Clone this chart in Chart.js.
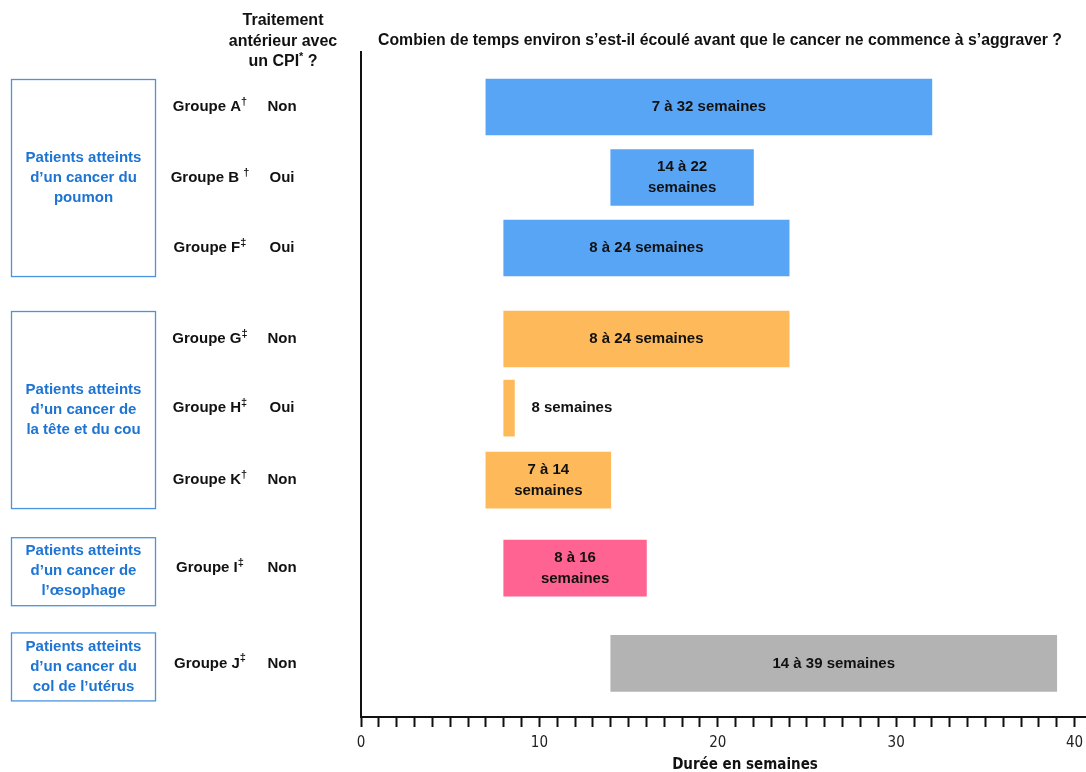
<!DOCTYPE html>
<html><head><meta charset="utf-8">
<script src="https://cdn.jsdelivr.net/npm/chart.js@4.4.1/dist/chart.umd.min.js"></script>
<style>html,body{margin:0;padding:0;background:#fff}#wrap{width:1086px;height:772px;position:relative}canvas{display:block}</style>
</head><body><div id="wrap"><canvas id="c" width="1086" height="772"></canvas></div>
<script>
// ---- data ----
const groups = ['Groupe A', 'Groupe B ', 'Groupe F', 'Groupe G', 'Groupe H', 'Groupe K', 'Groupe I', 'Groupe J'];
const groupMarks = ['†', '†', '‡', '‡', '‡', '†', '‡', '‡'];
const priorCPI = ['Non', 'Oui', 'Oui', 'Non', 'Oui', 'Non', 'Non', 'Non'];
const startWeeks = [7, 14, 8, 8, 8, 7, 8, 14];
const endWeeks = [32, 22, 24, 24, 8.6, 14, 16, 39];
const barLabels = [
  ['7 à 32 semaines'], ['14 à 22', 'semaines'], ['8 à 24 semaines'],
  ['8 à 24 semaines'], ['8 semaines'], ['7 à 14', 'semaines'],
  ['8 à 16', 'semaines'], ['14 à 39 semaines']
];
const cancerTypes = [
  ['Patients atteints', 'd’un cancer du', 'poumon'],
  ['Patients atteints', 'd’un cancer de', 'la tête et du cou'],
  ['Patients atteints', 'd’un cancer de', 'l’œsophage'],
  ['Patients atteints', 'd’un cancer du', 'col de l’utérus']
];
const cancerRows = [[0, 2], [3, 5], [6, 6], [7, 7]];
const xTicksMajor = [0, 10, 20, 30, 40];
const titleText = 'Combien de temps environ s’est-il écoulé avant que le cancer ne commence à s’aggraver ?';
const axisTitle = 'Durée en semaines';
const headerLines = ['Traitement', 'antérieur avec'];

// ---- layout (not data) ----
const rowPos = [1, 2, 3, 4.29, 5.27, 6.29, 7.54, 8.89];
const rowColors = ['#58a5f5', '#58a5f5', '#58a5f5', '#fdb95a', '#fdb95a', '#fdb95a', '#ff6391', '#b3b3b3'];
const FONT = '"Liberation Sans", Arial, Helvetica, sans-serif';
const NARROW = '"Liberation Sans Narrow", "DejaVu Sans Condensed", "Liberation Sans", Arial, sans-serif';
const BAR_H = 56;

function drawParts(ctx, parts, cx, y, size) {
  ctx.textBaseline = 'middle';
  ctx.textAlign = 'left';
  let w = 0;
  parts.forEach(p => {
    ctx.font = 'bold ' + (p.sup ? Math.round(size * 0.7) : size) + 'px ' + FONT;
    p.w = ctx.measureText(p.t).width;
    w += p.w;
  });
  let x = cx - w / 2;
  parts.forEach(p => {
    ctx.font = 'bold ' + (p.sup ? Math.round(size * 0.7) : size) + 'px ' + FONT;
    ctx.fillText(p.t, x, p.sup ? y - 5 : y);
    x += p.w;
  });
}

const annot = {
  id: 'annot',
  afterDatasetsDraw(chart) {
    const ctx = chart.ctx;
    const ys = chart.scales.y;
    ctx.save();
    // bar labels
    const meta = chart.getDatasetMeta(0);
    meta.data.forEach((el, i) => {
      const lines = barLabels[i];
      const x1 = Math.min(el.x, el.base), x2 = Math.max(el.x, el.base);
      ctx.fillStyle = '#111';
      ctx.font = 'bold 15px ' + FONT;
      ctx.textBaseline = 'middle';
      let tx, align;
      if (x2 - x1 < 60) { tx = x2 + 17; align = 'left'; }
      else { tx = (x1 + x2) / 2; align = 'center'; }
      ctx.textAlign = align;
      const n = lines.length;
      lines.forEach((ln, k) => ctx.fillText(ln, tx, el.y + (k - (n - 1) / 2) * 21));
    });
    // group labels and CPI column
    ctx.fillStyle = '#111';
    groups.forEach((g, i) => {
      const y = ys.getPixelForValue(rowPos[i]);
      drawParts(ctx, [{ t: g }, { t: groupMarks[i], sup: true }], 210, y, 15);
      drawParts(ctx, [{ t: priorCPI[i] }], 282, y, 15);
    });
    // header
    drawParts(ctx, [{ t: headerLines[0] }], 283, 21, 16);
    drawParts(ctx, [{ t: headerLines[1] }], 283, 42, 16);
    drawParts(ctx, [{ t: 'un CPI' }, { t: '*', sup: true }, { t: ' ?' }], 283, 62, 16);
    // title
    ctx.font = 'bold 15.8px ' + FONT;
    ctx.textAlign = 'center';
    ctx.fillText(titleText, 720, 41);
    // x axis title
    ctx.font = 'bold 15px ' + NARROW;
    ctx.fillText(axisTitle, 745, 765);
    // cancer boxes
    cancerRows.forEach((r, j) => {
      let top, bot;
      if (r[0] === r[1]) {
        const c = ys.getPixelForValue(rowPos[r[0]]) + 3;
        top = c - 34; bot = c + 34;
      } else {
        top = ys.getPixelForValue(rowPos[r[0]]) - BAR_H / 2;
        bot = ys.getPixelForValue(rowPos[r[1]]) + BAR_H / 2;
      }
      ctx.strokeStyle = '#4a93de';
      ctx.lineWidth = 1.3;
      ctx.strokeRect(11.5, top + 0.5, 144, bot - top);
      const cy = (top + bot) / 2;
      ctx.fillStyle = '#1d74d3';
      ctx.font = 'bold 15px ' + FONT;
      ctx.textAlign = 'center';
      ctx.textBaseline = 'middle';
      cancerTypes[j].forEach((ln, k) => ctx.fillText(ln, 83.5, cy + (k - 1) * 20));
    });
    ctx.restore();
  }
};

new Chart(document.getElementById('c'), {
  type: 'bar',
  data: {
    datasets: [{
      data: startWeeks.map((s, i) => ({ x: [s, endWeeks[i]], y: rowPos[i] })),
      backgroundColor: rowColors,
      borderWidth: 0,
      barThickness: BAR_H,
      borderSkipped: false
    }]
  },
  options: {
    responsive: false,
    animation: false,
    indexAxis: 'y',
    devicePixelRatio: 1,
    layout: { padding: { left: 361, top: 52, right: 0, bottom: 13 } },
    plugins: { legend: { display: false }, tooltip: { enabled: false }, title: { display: false } },
    scales: {
      x: {
        type: 'linear', min: 0, max: 40.64,
        afterBuildTicks: s => {
          const t = [];
          for (let v = 0; v <= 40; v++) t.push({ value: v });
          s.ticks = t;
        },
        afterFit: s => { s.paddingRight = 0; s.paddingLeft = 0; },
        ticks: {
          autoSkip: false, maxRotation: 0, padding: 7, color: '#222',
          font: { family: NARROW, size: 15 },
          callback: v => xTicksMajor.includes(v) ? String(v) : ''
        },
        grid: { drawOnChartArea: false, drawTicks: true, tickLength: 10, tickColor: '#111', tickWidth: 2 },
        border: { display: true, color: '#111', width: 2 },
        title: { display: false }
      },
      y: {
        type: 'linear', reverse: true, min: 0.22, max: 9.65, offset: false,
        ticks: { display: false },
        grid: { display: false, drawTicks: false, offset: false },
        border: { display: true, color: '#111', width: 2 },
        afterFit: s => { s.width = 0; }
      }
    }
  },
  plugins: [annot]
});
</script>
</body></html>
